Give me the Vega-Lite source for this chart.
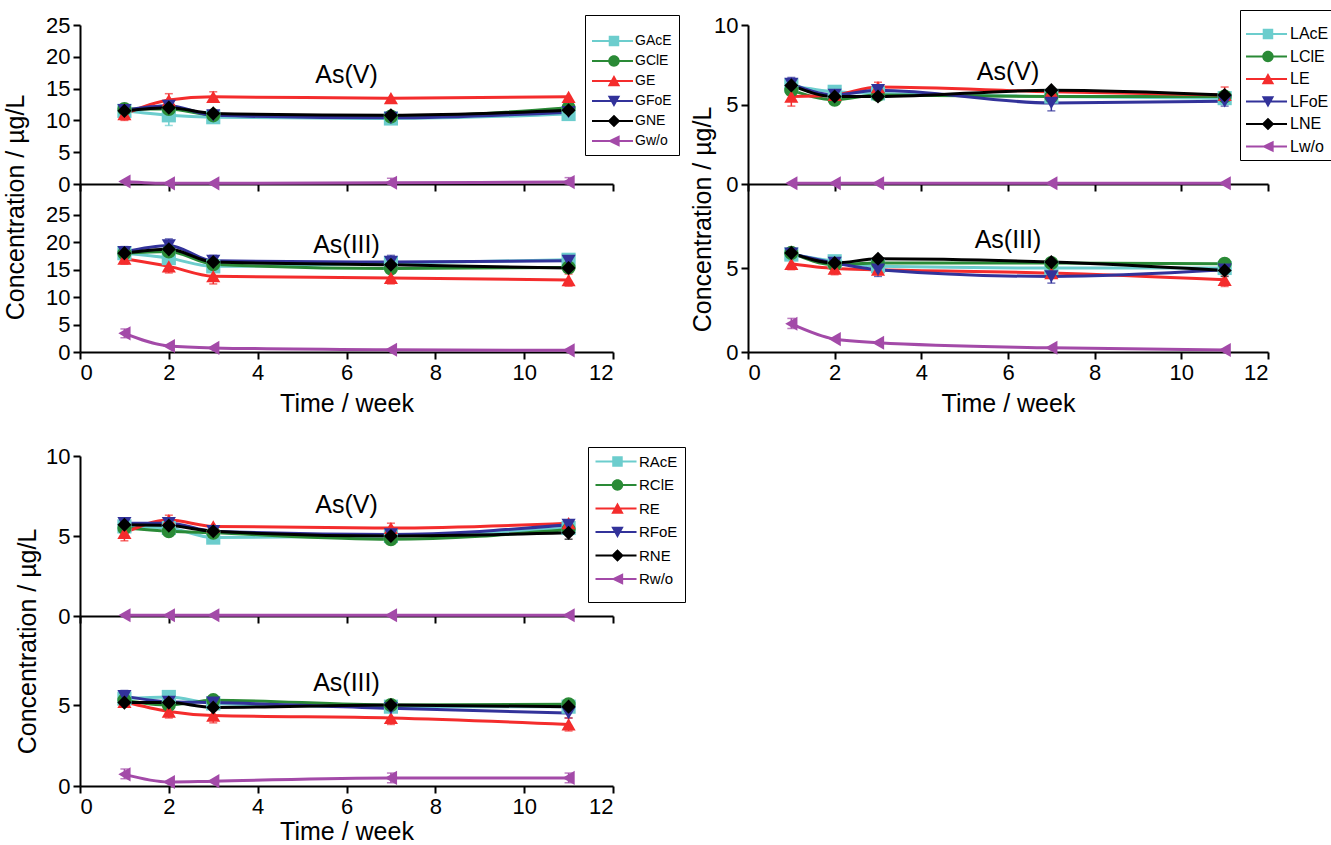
{
  "$schema": "https://vega.github.io/schema/vega-lite/v6.json",
  "padding": {"left": 2, "top": 9, "right": 0, "bottom": 0},
  "background": "white",
  "config": {
    "font": "Liberation Sans",
    "view": {"stroke": null},
    "axis": {"domainColor": "black", "domainWidth": 2, "tickColor": "black", "tickWidth": 2, "tickSize": 7, "labelFont": "Liberation Sans", "labelFontSize": 22, "labelColor": "black", "labelPadding": 3, "titleFont": "Liberation Sans", "titleFontSize": 25, "titleFontWeight": "normal", "titleColor": "black", "grid": false},
    "legend": {"labelFont": "Liberation Sans", "labelColor": "black", "titleFont": "Liberation Sans", "strokeColor": "black", "fillColor": "white"},
    "title": {"font": "Liberation Sans", "fontSize": 25, "fontWeight": "normal", "color": "black", "anchor": "middle", "frame": "group", "baseline": "middle"}
  },
  "datasets": {
    "G_V": [
      {"s": "GAcE", "t": 1, "v": 11.5}, {"s": "GAcE", "t": 2, "v": 10.8, "lo": 9.2, "hi": 12.4}, {"s": "GAcE", "t": 3, "v": 10.5}, {"s": "GAcE", "t": 7, "v": 10.3}, {"s": "GAcE", "t": 11, "v": 11.0},
      {"s": "GClE", "t": 1, "v": 11.8}, {"s": "GClE", "t": 2, "v": 11.8}, {"s": "GClE", "t": 3, "v": 10.8}, {"s": "GClE", "t": 7, "v": 10.6}, {"s": "GClE", "t": 11, "v": 12.0},
      {"s": "GE", "t": 1, "v": 11.0, "lo": 10.0, "hi": 12.0}, {"s": "GE", "t": 2, "v": 13.2, "lo": 12.4, "hi": 14.2}, {"s": "GE", "t": 3, "v": 13.7, "lo": 12.9, "hi": 14.5}, {"s": "GE", "t": 7, "v": 13.5}, {"s": "GE", "t": 11, "v": 13.7},
      {"s": "GFoE", "t": 1, "v": 11.6, "lo": 10.6, "hi": 12.4}, {"s": "GFoE", "t": 2, "v": 12.3}, {"s": "GFoE", "t": 3, "v": 10.8}, {"s": "GFoE", "t": 7, "v": 10.4}, {"s": "GFoE", "t": 11, "v": 11.3},
      {"s": "GNE", "t": 1, "v": 11.5}, {"s": "GNE", "t": 2, "v": 12.0}, {"s": "GNE", "t": 3, "v": 11.1}, {"s": "GNE", "t": 7, "v": 10.8}, {"s": "GNE", "t": 11, "v": 11.6},
      {"s": "Gw/o", "t": 1, "v": 0.4}, {"s": "Gw/o", "t": 2, "v": 0.1}, {"s": "Gw/o", "t": 3, "v": 0.1}, {"s": "Gw/o", "t": 7, "v": 0.2, "lo": 0, "hi": 0.9}, {"s": "Gw/o", "t": 11, "v": 0.3, "lo": 0, "hi": 1.0}
    ],
    "G_III": [
      {"s": "GAcE", "t": 1, "v": 18.0}, {"s": "GAcE", "t": 2, "v": 17.1}, {"s": "GAcE", "t": 3, "v": 15.6}, {"s": "GAcE", "t": 7, "v": 16.2}, {"s": "GAcE", "t": 11, "v": 16.8, "lo": 16.0, "hi": 17.6},
      {"s": "GClE", "t": 1, "v": 18.0}, {"s": "GClE", "t": 2, "v": 18.3}, {"s": "GClE", "t": 3, "v": 16.0}, {"s": "GClE", "t": 7, "v": 15.2}, {"s": "GClE", "t": 11, "v": 15.4},
      {"s": "GE", "t": 1, "v": 17.0, "lo": 16.0, "hi": 18.0}, {"s": "GE", "t": 2, "v": 15.6, "lo": 14.4, "hi": 16.8}, {"s": "GE", "t": 3, "v": 13.8, "lo": 12.4, "hi": 15.2}, {"s": "GE", "t": 7, "v": 13.5, "lo": 12.4, "hi": 14.6}, {"s": "GE", "t": 11, "v": 13.1, "lo": 12.0, "hi": 14.2},
      {"s": "GFoE", "t": 1, "v": 18.2, "lo": 17.2, "hi": 19.2}, {"s": "GFoE", "t": 2, "v": 19.4, "lo": 18.4, "hi": 20.6}, {"s": "GFoE", "t": 3, "v": 16.6, "lo": 15.6, "hi": 17.6}, {"s": "GFoE", "t": 7, "v": 16.4, "lo": 15.2, "hi": 17.6}, {"s": "GFoE", "t": 11, "v": 16.6},
      {"s": "GNE", "t": 1, "v": 18.0}, {"s": "GNE", "t": 2, "v": 18.7}, {"s": "GNE", "t": 3, "v": 16.4}, {"s": "GNE", "t": 7, "v": 15.9}, {"s": "GNE", "t": 11, "v": 15.3},
      {"s": "Gw/o", "t": 1, "v": 3.4, "lo": 2.6, "hi": 4.2}, {"s": "Gw/o", "t": 2, "v": 1.1}, {"s": "Gw/o", "t": 3, "v": 0.75}, {"s": "Gw/o", "t": 7, "v": 0.4}, {"s": "Gw/o", "t": 11, "v": 0.3}
    ],
    "L_V": [
      {"s": "LAcE", "t": 1, "v": 6.2}, {"s": "LAcE", "t": 2, "v": 5.8}, {"s": "LAcE", "t": 3, "v": 5.7}, {"s": "LAcE", "t": 7, "v": 5.5}, {"s": "LAcE", "t": 11, "v": 5.4},
      {"s": "LClE", "t": 1, "v": 5.9}, {"s": "LClE", "t": 2, "v": 5.3}, {"s": "LClE", "t": 3, "v": 5.6}, {"s": "LClE", "t": 7, "v": 5.5}, {"s": "LClE", "t": 11, "v": 5.5},
      {"s": "LE", "t": 1, "v": 5.5, "lo": 4.9, "hi": 6.1}, {"s": "LE", "t": 2, "v": 5.6}, {"s": "LE", "t": 3, "v": 6.1, "lo": 5.8, "hi": 6.4}, {"s": "LE", "t": 7, "v": 5.8}, {"s": "LE", "t": 11, "v": 5.6, "lo": 5.1, "hi": 6.1},
      {"s": "LFoE", "t": 1, "v": 6.3, "lo": 5.9, "hi": 6.7}, {"s": "LFoE", "t": 2, "v": 5.6}, {"s": "LFoE", "t": 3, "v": 5.9}, {"s": "LFoE", "t": 7, "v": 5.1, "lo": 4.6, "hi": 5.6}, {"s": "LFoE", "t": 11, "v": 5.2, "lo": 4.9, "hi": 5.5},
      {"s": "LNE", "t": 1, "v": 6.2}, {"s": "LNE", "t": 2, "v": 5.5, "lo": 5.2, "hi": 5.9}, {"s": "LNE", "t": 3, "v": 5.5}, {"s": "LNE", "t": 7, "v": 5.9}, {"s": "LNE", "t": 11, "v": 5.6},
      {"s": "Lw/o", "t": 1, "v": 0.05}, {"s": "Lw/o", "t": 2, "v": 0.05}, {"s": "Lw/o", "t": 3, "v": 0.05}, {"s": "Lw/o", "t": 7, "v": 0.05}, {"s": "Lw/o", "t": 11, "v": 0.05}
    ],
    "L_III": [
      {"s": "LAcE", "t": 1, "v": 5.8}, {"s": "LAcE", "t": 2, "v": 5.4}, {"s": "LAcE", "t": 3, "v": 5.1}, {"s": "LAcE", "t": 7, "v": 5.0}, {"s": "LAcE", "t": 11, "v": 5.0},
      {"s": "LClE", "t": 1, "v": 5.9}, {"s": "LClE", "t": 2, "v": 5.2, "lo": 5.0, "hi": 5.6}, {"s": "LClE", "t": 3, "v": 5.3}, {"s": "LClE", "t": 7, "v": 5.3}, {"s": "LClE", "t": 11, "v": 5.25},
      {"s": "LE", "t": 1, "v": 5.25, "lo": 4.9, "hi": 5.6}, {"s": "LE", "t": 2, "v": 4.97, "lo": 4.6, "hi": 5.3}, {"s": "LE", "t": 3, "v": 4.9}, {"s": "LE", "t": 7, "v": 4.7}, {"s": "LE", "t": 11, "v": 4.3, "lo": 3.9, "hi": 4.6},
      {"s": "LFoE", "t": 1, "v": 5.85}, {"s": "LFoE", "t": 2, "v": 5.3}, {"s": "LFoE", "t": 3, "v": 4.9, "lo": 4.5, "hi": 5.3}, {"s": "LFoE", "t": 7, "v": 4.5, "lo": 4.1, "hi": 4.9}, {"s": "LFoE", "t": 11, "v": 4.9},
      {"s": "LNE", "t": 1, "v": 5.9}, {"s": "LNE", "t": 2, "v": 5.3}, {"s": "LNE", "t": 3, "v": 5.55}, {"s": "LNE", "t": 7, "v": 5.35}, {"s": "LNE", "t": 11, "v": 4.85, "lo": 4.5, "hi": 5.2},
      {"s": "Lw/o", "t": 1, "v": 1.68, "lo": 1.4, "hi": 2.0}, {"s": "Lw/o", "t": 2, "v": 0.77}, {"s": "Lw/o", "t": 3, "v": 0.55}, {"s": "Lw/o", "t": 7, "v": 0.25}, {"s": "Lw/o", "t": 11, "v": 0.12}
    ],
    "R_V": [
      {"s": "RAcE", "t": 1, "v": 5.6}, {"s": "RAcE", "t": 2, "v": 5.5}, {"s": "RAcE", "t": 3, "v": 4.9, "lo": 4.6, "hi": 5.2}, {"s": "RAcE", "t": 7, "v": 5.0}, {"s": "RAcE", "t": 11, "v": 5.5},
      {"s": "RClE", "t": 1, "v": 5.5}, {"s": "RClE", "t": 2, "v": 5.3}, {"s": "RClE", "t": 3, "v": 5.2}, {"s": "RClE", "t": 7, "v": 4.8, "lo": 4.5, "hi": 5.1}, {"s": "RClE", "t": 11, "v": 5.4},
      {"s": "RE", "t": 1, "v": 5.2, "lo": 4.7, "hi": 5.7}, {"s": "RE", "t": 2, "v": 6.0, "lo": 5.7, "hi": 6.3}, {"s": "RE", "t": 3, "v": 5.6}, {"s": "RE", "t": 7, "v": 5.5, "lo": 5.2, "hi": 5.8}, {"s": "RE", "t": 11, "v": 5.8},
      {"s": "RFoE", "t": 1, "v": 5.8}, {"s": "RFoE", "t": 2, "v": 5.8}, {"s": "RFoE", "t": 3, "v": 5.3, "lo": 4.9, "hi": 5.6}, {"s": "RFoE", "t": 7, "v": 5.1}, {"s": "RFoE", "t": 11, "v": 5.7},
      {"s": "RNE", "t": 1, "v": 5.7}, {"s": "RNE", "t": 2, "v": 5.65}, {"s": "RNE", "t": 3, "v": 5.3}, {"s": "RNE", "t": 7, "v": 5.0}, {"s": "RNE", "t": 11, "v": 5.2, "lo": 4.8, "hi": 5.5},
      {"s": "Rw/o", "t": 1, "v": 0.05}, {"s": "Rw/o", "t": 2, "v": 0.05}, {"s": "Rw/o", "t": 3, "v": 0.05}, {"s": "Rw/o", "t": 7, "v": 0.05}, {"s": "Rw/o", "t": 11, "v": 0.05}
    ],
    "R_III": [
      {"s": "RAcE", "t": 1, "v": 5.4}, {"s": "RAcE", "t": 2, "v": 5.5}, {"s": "RAcE", "t": 3, "v": 5.1}, {"s": "RAcE", "t": 7, "v": 4.9}, {"s": "RAcE", "t": 11, "v": 4.9},
      {"s": "RClE", "t": 1, "v": 5.3}, {"s": "RClE", "t": 2, "v": 5.0}, {"s": "RClE", "t": 3, "v": 5.3}, {"s": "RClE", "t": 7, "v": 5.0}, {"s": "RClE", "t": 11, "v": 5.05},
      {"s": "RE", "t": 1, "v": 5.2, "lo": 4.9, "hi": 5.4}, {"s": "RE", "t": 2, "v": 4.6, "lo": 4.2, "hi": 5.0}, {"s": "RE", "t": 3, "v": 4.35, "lo": 3.9, "hi": 4.8}, {"s": "RE", "t": 7, "v": 4.2, "lo": 3.8, "hi": 4.6}, {"s": "RE", "t": 11, "v": 3.8, "lo": 3.4, "hi": 4.2},
      {"s": "RFoE", "t": 1, "v": 5.55, "lo": 5.2, "hi": 5.9}, {"s": "RFoE", "t": 2, "v": 5.2}, {"s": "RFoE", "t": 3, "v": 5.15}, {"s": "RFoE", "t": 7, "v": 4.8}, {"s": "RFoE", "t": 11, "v": 4.5, "lo": 4.2, "hi": 4.8},
      {"s": "RNE", "t": 1, "v": 5.15}, {"s": "RNE", "t": 2, "v": 5.15}, {"s": "RNE", "t": 3, "v": 4.85}, {"s": "RNE", "t": 7, "v": 5.0}, {"s": "RNE", "t": 11, "v": 4.9},
      {"s": "Rw/o", "t": 1, "v": 0.72, "lo": 0.45, "hi": 1.05}, {"s": "Rw/o", "t": 2, "v": 0.25}, {"s": "Rw/o", "t": 3, "v": 0.3}, {"s": "Rw/o", "t": 7, "v": 0.5, "lo": 0.2, "hi": 0.8}, {"s": "Rw/o", "t": 11, "v": 0.5, "lo": 0.2, "hi": 0.8}
    ]
  },
  "columns": 2,
  "spacing": {"row": 0, "column": 135},
  "bounds": "flush",
  "concat": [
    {
      "width": 533, "height": 159,
      "title": {"text": "As(V)", "offset": -74},
      "data": {"name": "G_V"},
      "encoding": {
        "x": {"field": "t", "type": "quantitative", "scale": {"domain": [0, 12], "nice": false}, "axis": {"values": [0, 2, 4, 6, 8, 10, 12], "labels": false, "title": null}},
        "y": {"field": "v", "type": "quantitative", "scale": {"domain": [0, 25], "nice": false}, "axis": {"values": [0, 5, 10, 15, 20, 25], "title": null}}
      },
      "layer": [
        {"mark": {"type": "errorbar", "ticks": true, "thickness": 1.5, "size": 8}, "encoding": {"y": {"field": "lo", "type": "quantitative", "scale": {"domain": [0, 25], "nice": false}, "axis": {"values": [0, 5, 10, 15, 20, 25], "title": null}}, "y2": {"field": "hi"}, "color": {"field": "s", "type": "nominal", "scale": {"domain": ["GAcE", "GClE", "GE", "GFoE", "GNE", "Gw/o"], "range": ["#6CCDCD", "#2A8A36", "#F42C2C", "#32329A", "#000000", "#A34AA8"]}, "legend": null}}},
        {"mark": {"type": "line", "interpolate": "monotone", "strokeWidth": 3}, "encoding": {"color": {"field": "s", "type": "nominal", "scale": {"domain": ["GAcE", "GClE", "GE", "GFoE", "GNE", "Gw/o"], "range": ["#6CCDCD", "#2A8A36", "#F42C2C", "#32329A", "#000000", "#A34AA8"]}, "legend": null}}},
        {"mark": {"type": "point", "filled": true, "size": 200, "opacity": 1}, "encoding": {"color": {"field": "s", "type": "nominal", "scale": {"domain": ["GAcE", "GClE", "GE", "GFoE", "GNE", "Gw/o"], "range": ["#6CCDCD", "#2A8A36", "#F42C2C", "#32329A", "#000000", "#A34AA8"]}, "legend": null}, "shape": {"field": "s", "type": "nominal", "scale": {"domain": ["GAcE", "GClE", "GE", "GFoE", "GNE", "Gw/o"], "range": ["square", "circle", "triangle-up", "triangle-down", "diamond", "triangle-left"]}, "legend": null}}},
        {"mark": {"type": "point", "filled": true, "size": 160, "opacity": 0}, "encoding": {
          "color": {"field": "s", "type": "nominal", "scale": {"domain": ["GAcE", "GClE", "GE", "GFoE", "GNE", "Gw/o"], "range": ["#6CCDCD", "#2A8A36", "#F42C2C", "#32329A", "#000000", "#A34AA8"]}, "legend": {"orient": "none", "legendX": 505, "legendY": -10, "title": " ", "titleFontSize": 10, "titlePadding": 2, "padding": 7, "strokeColor": "black", "fillColor": "white", "symbolSize": 196, "symbolOpacity": 1, "symbolStrokeWidth": 0, "labelOffset": 29, "labelFontSize": 14, "rowPadding": 6}},
          "shape": {"field": "s", "type": "nominal", "scale": {"domain": ["GAcE", "GClE", "GE", "GFoE", "GNE", "Gw/o"], "range": [
            "M-1,-0.16H4.86V0.16H-1ZM1.39,-0.75H2.89V0.75H1.39Z",
            "M-1,-0.16H4.86V0.16H-1ZM1.32,0A0.82,0.82 0 1,1 2.96,0A0.82,0.82 0 1,1 1.32,0Z",
            "M-1,-0.16H4.86V0.16H-1ZM2.14,-0.85L3.03,0.75L1.25,0.75Z",
            "M-1,-0.16H4.86V0.16H-1ZM1.25,-0.75L3.03,-0.75L2.14,0.85Z",
            "M-1,-0.16H4.86V0.16H-1ZM2.14,-0.9L3.04,0L2.14,0.9L1.24,0Z",
            "M-1,-0.16H4.86V0.16H-1ZM1.25,0L2.95,-0.82L2.95,0.82Z"]}, "legend": {"orient": "none", "legendX": 505, "legendY": -10, "title": " ", "titleFontSize": 10, "titlePadding": 2, "padding": 7, "strokeColor": "black", "fillColor": "white", "symbolSize": 196, "symbolOpacity": 1, "symbolStrokeWidth": 0, "labelOffset": 29, "labelFontSize": 14, "rowPadding": 6}}}}
      ],
      "resolve": {"scale": {"color": "independent", "shape": "independent"}}
    },
    {
      "width": 520, "height": 159,
      "title": {"text": "As(V)", "offset": -75},
      "data": {"name": "L_V"},
      "encoding": {
        "x": {"field": "t", "type": "quantitative", "scale": {"domain": [0, 12], "nice": false}, "axis": {"values": [0, 2, 4, 6, 8, 10, 12], "labels": false, "title": null}},
        "y": {"field": "v", "type": "quantitative", "scale": {"domain": [0, 10], "nice": false}, "axis": {"values": [0, 5, 10], "title": null}}
      },
      "layer": [
        {"mark": {"type": "errorbar", "ticks": true, "thickness": 1.5, "size": 8}, "encoding": {"y": {"field": "lo", "type": "quantitative", "scale": {"domain": [0, 10], "nice": false}, "axis": {"values": [0, 5, 10], "title": null}}, "y2": {"field": "hi"}, "color": {"field": "s", "type": "nominal", "scale": {"domain": ["LAcE", "LClE", "LE", "LFoE", "LNE", "Lw/o"], "range": ["#6CCDCD", "#2A8A36", "#F42C2C", "#32329A", "#000000", "#A34AA8"]}, "legend": null}}},
        {"mark": {"type": "line", "interpolate": "monotone", "strokeWidth": 3}, "encoding": {"color": {"field": "s", "type": "nominal", "scale": {"domain": ["LAcE", "LClE", "LE", "LFoE", "LNE", "Lw/o"], "range": ["#6CCDCD", "#2A8A36", "#F42C2C", "#32329A", "#000000", "#A34AA8"]}, "legend": null}}},
        {"mark": {"type": "point", "filled": true, "size": 200, "opacity": 1}, "encoding": {"color": {"field": "s", "type": "nominal", "scale": {"domain": ["LAcE", "LClE", "LE", "LFoE", "LNE", "Lw/o"], "range": ["#6CCDCD", "#2A8A36", "#F42C2C", "#32329A", "#000000", "#A34AA8"]}, "legend": null}, "shape": {"field": "s", "type": "nominal", "scale": {"domain": ["LAcE", "LClE", "LE", "LFoE", "LNE", "Lw/o"], "range": ["square", "circle", "triangle-up", "triangle-down", "diamond", "triangle-left"]}, "legend": null}}},
        {"mark": {"type": "point", "filled": true, "size": 160, "opacity": 0}, "encoding": {
          "color": {"field": "s", "type": "nominal", "scale": {"domain": ["LAcE", "LClE", "LE", "LFoE", "LNE", "Lw/o"], "range": ["#6CCDCD", "#2A8A36", "#F42C2C", "#32329A", "#000000", "#A34AA8"]}, "legend": {"orient": "none", "legendX": 492, "legendY": -15, "title": " ", "titleFontSize": 9, "titlePadding": 2, "padding": 5, "strokeColor": "black", "fillColor": "white", "symbolSize": 196, "symbolOpacity": 1, "symbolStrokeWidth": 0, "labelOffset": 29, "labelFontSize": 16, "rowPadding": 6.5}},
          "shape": {"field": "s", "type": "nominal", "scale": {"domain": ["LAcE", "LClE", "LE", "LFoE", "LNE", "Lw/o"], "range": [
            "M-1,-0.16H4.86V0.16H-1ZM1.39,-0.75H2.89V0.75H1.39Z",
            "M-1,-0.16H4.86V0.16H-1ZM1.32,0A0.82,0.82 0 1,1 2.96,0A0.82,0.82 0 1,1 1.32,0Z",
            "M-1,-0.16H4.86V0.16H-1ZM2.14,-0.85L3.03,0.75L1.25,0.75Z",
            "M-1,-0.16H4.86V0.16H-1ZM1.25,-0.75L3.03,-0.75L2.14,0.85Z",
            "M-1,-0.16H4.86V0.16H-1ZM2.14,-0.9L3.04,0L2.14,0.9L1.24,0Z",
            "M-1,-0.16H4.86V0.16H-1ZM1.25,0L2.95,-0.82L2.95,0.82Z"]}, "legend": {"orient": "none", "legendX": 492, "legendY": -15, "title": " ", "titleFontSize": 9, "titlePadding": 2, "padding": 5, "strokeColor": "black", "fillColor": "white", "symbolSize": 196, "symbolOpacity": 1, "symbolStrokeWidth": 0, "labelOffset": 29, "labelFontSize": 16, "rowPadding": 6.5}}}}
      ],
      "resolve": {"scale": {"color": "independent", "shape": "independent"}}
    },
    {
      "width": 533, "height": 168,
      "title": {"text": "As(III)", "offset": -164},
      "data": {"name": "G_III"},
      "encoding": {
        "x": {"field": "t", "type": "quantitative", "scale": {"domain": [0, 12], "nice": false}, "axis": {"values": [0, 2, 4, 6, 8, 10, 12], "title": "Time / week", "titlePadding": 8}},
        "y": {"field": "v", "type": "quantitative", "scale": {"domain": [0, 30.6], "nice": false}, "axis": {"values": [0, 5, 10, 15, 20, 25], "title": "Concentration / µg/L", "titleX": -52, "titleY": 23}}
      },
      "layer": [
        {"mark": {"type": "errorbar", "ticks": true, "thickness": 1.5, "size": 8}, "encoding": {"y": {"field": "lo", "type": "quantitative", "scale": {"domain": [0, 30.6], "nice": false}, "axis": {"values": [0, 5, 10, 15, 20, 25], "title": "Concentration / µg/L", "titleX": -52, "titleY": 23}}, "y2": {"field": "hi"}, "color": {"field": "s", "type": "nominal", "scale": {"domain": ["GAcE", "GClE", "GE", "GFoE", "GNE", "Gw/o"], "range": ["#6CCDCD", "#2A8A36", "#F42C2C", "#32329A", "#000000", "#A34AA8"]}, "legend": null}}},
        {"mark": {"type": "line", "interpolate": "monotone", "strokeWidth": 3}, "encoding": {"color": {"field": "s", "type": "nominal", "scale": {"domain": ["GAcE", "GClE", "GE", "GFoE", "GNE", "Gw/o"], "range": ["#6CCDCD", "#2A8A36", "#F42C2C", "#32329A", "#000000", "#A34AA8"]}, "legend": null}}},
        {"mark": {"type": "point", "filled": true, "size": 200, "opacity": 1}, "encoding": {"color": {"field": "s", "type": "nominal", "scale": {"domain": ["GAcE", "GClE", "GE", "GFoE", "GNE", "Gw/o"], "range": ["#6CCDCD", "#2A8A36", "#F42C2C", "#32329A", "#000000", "#A34AA8"]}, "legend": null}, "shape": {"field": "s", "type": "nominal", "scale": {"domain": ["GAcE", "GClE", "GE", "GFoE", "GNE", "Gw/o"], "range": ["square", "circle", "triangle-up", "triangle-down", "diamond", "triangle-left"]}, "legend": null}}}
      ]
    },
    {
      "width": 520, "height": 168,
      "title": {"text": "As(III)", "offset": -147},
      "data": {"name": "L_III"},
      "encoding": {
        "x": {"field": "t", "type": "quantitative", "scale": {"domain": [0, 12], "nice": false}, "axis": {"values": [0, 2, 4, 6, 8, 10, 12], "title": "Time / week", "titlePadding": 8}},
        "y": {"field": "v", "type": "quantitative", "scale": {"domain": [0, 10], "nice": false}, "axis": {"values": [0, 5], "title": "Concentration / µg/L", "titleX": -33, "titleY": 35}}
      },
      "layer": [
        {"mark": {"type": "errorbar", "ticks": true, "thickness": 1.5, "size": 8}, "encoding": {"y": {"field": "lo", "type": "quantitative", "scale": {"domain": [0, 10], "nice": false}, "axis": {"values": [0, 5], "title": "Concentration / µg/L", "titleX": -33, "titleY": 35}}, "y2": {"field": "hi"}, "color": {"field": "s", "type": "nominal", "scale": {"domain": ["LAcE", "LClE", "LE", "LFoE", "LNE", "Lw/o"], "range": ["#6CCDCD", "#2A8A36", "#F42C2C", "#32329A", "#000000", "#A34AA8"]}, "legend": null}}},
        {"mark": {"type": "line", "interpolate": "monotone", "strokeWidth": 3}, "encoding": {"color": {"field": "s", "type": "nominal", "scale": {"domain": ["LAcE", "LClE", "LE", "LFoE", "LNE", "Lw/o"], "range": ["#6CCDCD", "#2A8A36", "#F42C2C", "#32329A", "#000000", "#A34AA8"]}, "legend": null}}},
        {"mark": {"type": "point", "filled": true, "size": 200, "opacity": 1}, "encoding": {"color": {"field": "s", "type": "nominal", "scale": {"domain": ["LAcE", "LClE", "LE", "LFoE", "LNE", "Lw/o"], "range": ["#6CCDCD", "#2A8A36", "#F42C2C", "#32329A", "#000000", "#A34AA8"]}, "legend": null}, "shape": {"field": "s", "type": "nominal", "scale": {"domain": ["LAcE", "LClE", "LE", "LFoE", "LNE", "Lw/o"], "range": ["square", "circle", "triangle-up", "triangle-down", "diamond", "triangle-left"]}, "legend": null}}}
      ]
    },
    {"width": 10, "height": 104, "data": {"values": []}, "mark": {"type": "point", "opacity": 0}},
    {"width": 10, "height": 104, "data": {"values": []}, "mark": {"type": "point", "opacity": 0}},
    {
      "width": 533, "height": 160,
      "title": {"text": "As(V)", "offset": -73},
      "data": {"name": "R_V"},
      "encoding": {
        "x": {"field": "t", "type": "quantitative", "scale": {"domain": [0, 12], "nice": false}, "axis": {"values": [0, 2, 4, 6, 8, 10, 12], "labels": false, "title": null}},
        "y": {"field": "v", "type": "quantitative", "scale": {"domain": [0, 10], "nice": false}, "axis": {"values": [0, 5, 10], "title": null}}
      },
      "layer": [
        {"mark": {"type": "errorbar", "ticks": true, "thickness": 1.5, "size": 8}, "encoding": {"y": {"field": "lo", "type": "quantitative", "scale": {"domain": [0, 10], "nice": false}, "axis": {"values": [0, 5, 10], "title": null}}, "y2": {"field": "hi"}, "color": {"field": "s", "type": "nominal", "scale": {"domain": ["RAcE", "RClE", "RE", "RFoE", "RNE", "Rw/o"], "range": ["#6CCDCD", "#2A8A36", "#F42C2C", "#32329A", "#000000", "#A34AA8"]}, "legend": null}}},
        {"mark": {"type": "line", "interpolate": "monotone", "strokeWidth": 3}, "encoding": {"color": {"field": "s", "type": "nominal", "scale": {"domain": ["RAcE", "RClE", "RE", "RFoE", "RNE", "Rw/o"], "range": ["#6CCDCD", "#2A8A36", "#F42C2C", "#32329A", "#000000", "#A34AA8"]}, "legend": null}}},
        {"mark": {"type": "point", "filled": true, "size": 200, "opacity": 1}, "encoding": {"color": {"field": "s", "type": "nominal", "scale": {"domain": ["RAcE", "RClE", "RE", "RFoE", "RNE", "Rw/o"], "range": ["#6CCDCD", "#2A8A36", "#F42C2C", "#32329A", "#000000", "#A34AA8"]}, "legend": null}, "shape": {"field": "s", "type": "nominal", "scale": {"domain": ["RAcE", "RClE", "RE", "RFoE", "RNE", "Rw/o"], "range": ["square", "circle", "triangle-up", "triangle-down", "diamond", "triangle-left"]}, "legend": null}}},
        {"mark": {"type": "point", "filled": true, "size": 160, "opacity": 0}, "encoding": {
          "color": {"field": "s", "type": "nominal", "scale": {"domain": ["RAcE", "RClE", "RE", "RFoE", "RNE", "Rw/o"], "range": ["#6CCDCD", "#2A8A36", "#F42C2C", "#32329A", "#000000", "#A34AA8"]}, "legend": {"orient": "none", "legendX": 508, "legendY": -9, "title": " ", "titleOrient": "bottom", "titleFontSize": 6, "titlePadding": 2, "padding": 7, "strokeColor": "black", "fillColor": "white", "symbolSize": 196, "symbolOpacity": 1, "symbolStrokeWidth": 0, "labelOffset": 29, "labelFontSize": 15, "rowPadding": 7.5}},
          "shape": {"field": "s", "type": "nominal", "scale": {"domain": ["RAcE", "RClE", "RE", "RFoE", "RNE", "Rw/o"], "range": [
            "M-1,-0.16H4.86V0.16H-1ZM1.39,-0.75H2.89V0.75H1.39Z",
            "M-1,-0.16H4.86V0.16H-1ZM1.32,0A0.82,0.82 0 1,1 2.96,0A0.82,0.82 0 1,1 1.32,0Z",
            "M-1,-0.16H4.86V0.16H-1ZM2.14,-0.85L3.03,0.75L1.25,0.75Z",
            "M-1,-0.16H4.86V0.16H-1ZM1.25,-0.75L3.03,-0.75L2.14,0.85Z",
            "M-1,-0.16H4.86V0.16H-1ZM2.14,-0.9L3.04,0L2.14,0.9L1.24,0Z",
            "M-1,-0.16H4.86V0.16H-1ZM1.25,0L2.95,-0.82L2.95,0.82Z"]}, "legend": {"orient": "none", "legendX": 508, "legendY": -9, "title": " ", "titleOrient": "bottom", "titleFontSize": 6, "titlePadding": 2, "padding": 7, "strokeColor": "black", "fillColor": "white", "symbolSize": 196, "symbolOpacity": 1, "symbolStrokeWidth": 0, "labelOffset": 29, "labelFontSize": 15, "rowPadding": 7.5}}}}
      ],
      "resolve": {"scale": {"color": "independent", "shape": "independent"}}
    },
    {"width": 10, "height": 160, "data": {"values": []}, "mark": {"type": "point", "opacity": 0}},
    {
      "width": 533, "height": 170,
      "title": {"text": "As(III)", "offset": -168},
      "data": {"name": "R_III"},
      "encoding": {
        "x": {"field": "t", "type": "quantitative", "scale": {"domain": [0, 12], "nice": false}, "axis": {"values": [0, 2, 4, 6, 8, 10, 12], "title": "Time / week", "titlePadding": 2}},
        "y": {"field": "v", "type": "quantitative", "scale": {"domain": [0, 10.5], "nice": false}, "axis": {"values": [0, 5], "title": "Concentration / µg/L", "titleX": -40, "titleY": 25}}
      },
      "layer": [
        {"mark": {"type": "errorbar", "ticks": true, "thickness": 1.5, "size": 8}, "encoding": {"y": {"field": "lo", "type": "quantitative", "scale": {"domain": [0, 10.5], "nice": false}, "axis": {"values": [0, 5], "title": "Concentration / µg/L", "titleX": -40, "titleY": 25}}, "y2": {"field": "hi"}, "color": {"field": "s", "type": "nominal", "scale": {"domain": ["RAcE", "RClE", "RE", "RFoE", "RNE", "Rw/o"], "range": ["#6CCDCD", "#2A8A36", "#F42C2C", "#32329A", "#000000", "#A34AA8"]}, "legend": null}}},
        {"mark": {"type": "line", "interpolate": "monotone", "strokeWidth": 3}, "encoding": {"color": {"field": "s", "type": "nominal", "scale": {"domain": ["RAcE", "RClE", "RE", "RFoE", "RNE", "Rw/o"], "range": ["#6CCDCD", "#2A8A36", "#F42C2C", "#32329A", "#000000", "#A34AA8"]}, "legend": null}}},
        {"mark": {"type": "point", "filled": true, "size": 200, "opacity": 1}, "encoding": {"color": {"field": "s", "type": "nominal", "scale": {"domain": ["RAcE", "RClE", "RE", "RFoE", "RNE", "Rw/o"], "range": ["#6CCDCD", "#2A8A36", "#F42C2C", "#32329A", "#000000", "#A34AA8"]}, "legend": null}, "shape": {"field": "s", "type": "nominal", "scale": {"domain": ["RAcE", "RClE", "RE", "RFoE", "RNE", "Rw/o"], "range": ["square", "circle", "triangle-up", "triangle-down", "diamond", "triangle-left"]}, "legend": null}}}
      ]
    }
  ]
}
